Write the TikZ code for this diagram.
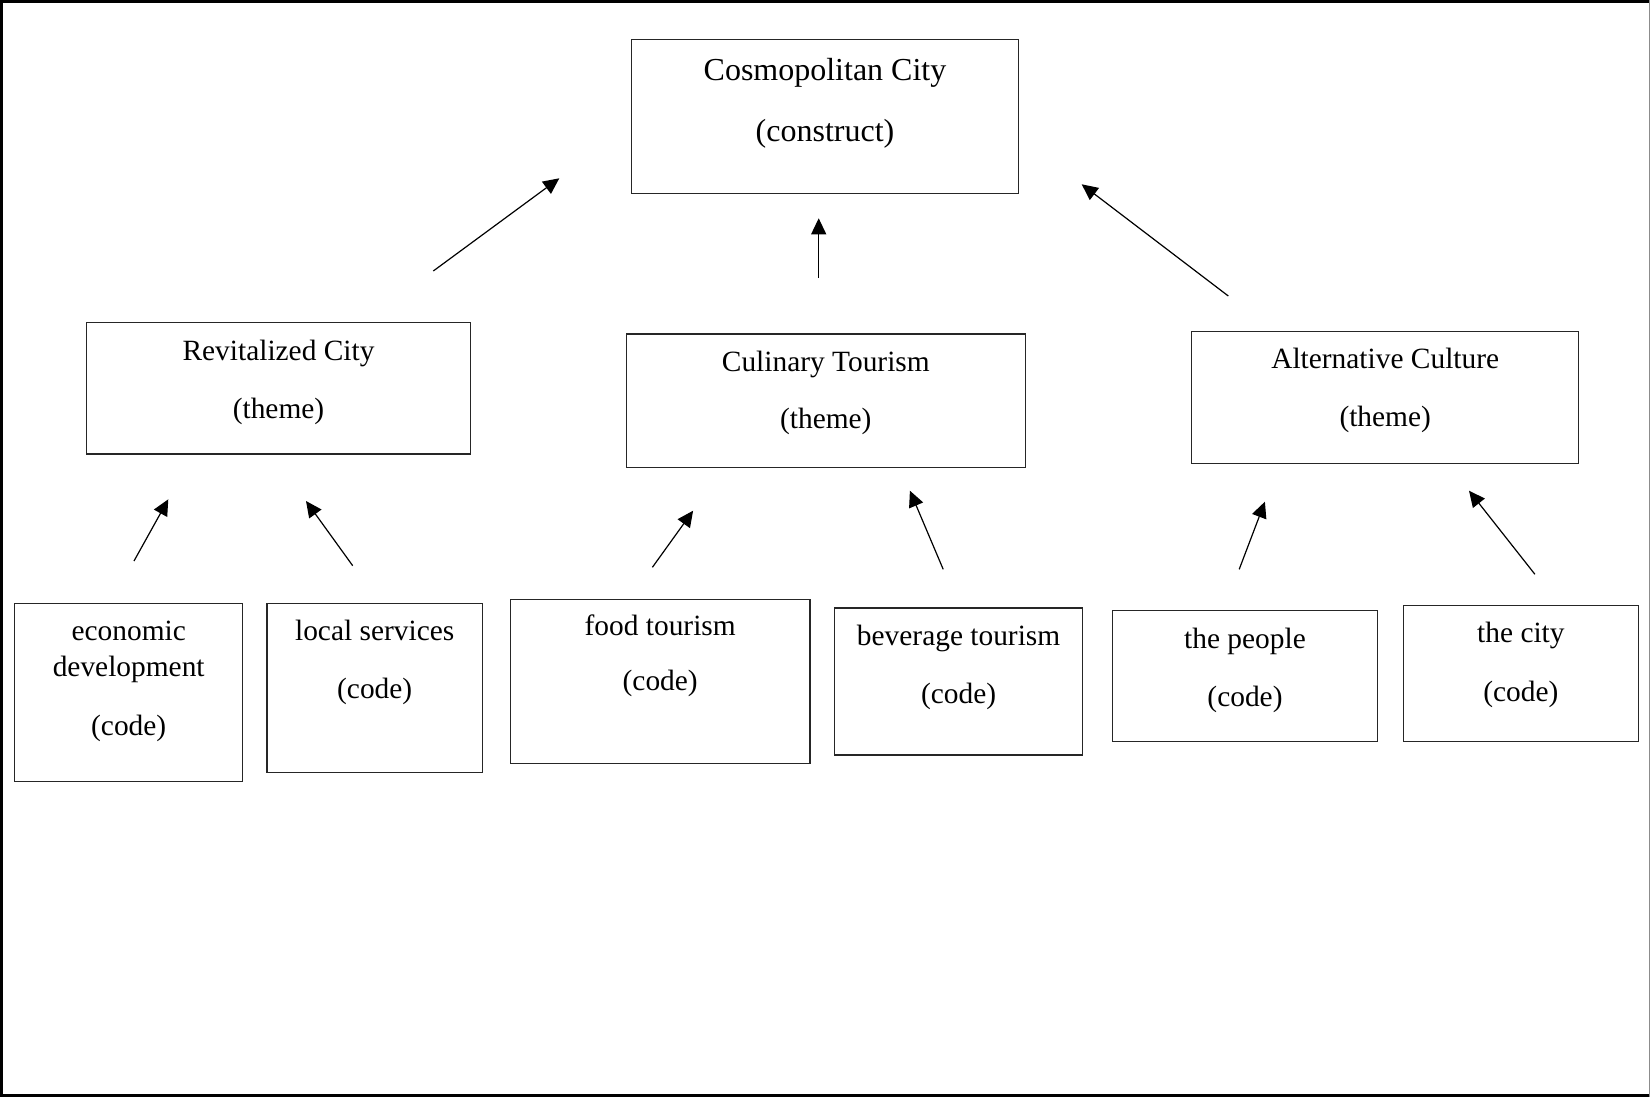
\documentclass[tikz,border=0pt]{standalone}
\usepackage{fontspec}
\setmainfont{Liberation Serif}
\usetikzlibrary{arrows.meta, positioning}

\tikzset{
    boxsize/.style 2 args={minimum width=#1*0.5pt, minimum height=#2*0.5pt}
}

\begin{document}
\begin{tikzpicture}[
    x=0.5pt, y=-0.5pt,
    box/.style={rectangle, draw=black!85, line width=0.6pt, inner sep=0pt},
    txt/.style={align=center, anchor=base, inner sep=0pt, font=\fontsize{14.7}{18.1}\selectfont},
    arrow/.style={-{Triangle[length=8pt, width=7.5pt]}, line width=0.6pt, black},
    frame/.style={line width=1.5pt, black}
]
\useasboundingbox (0,0) rectangle (1650,1097);

% Outer frame
\draw[frame] (1650,1.5) -- (1.5,1.5) -- (1.5,1095.5) -- (1650,1095.5);
\draw[black!45, line width=0.5pt] (1649.5,0) -- (1649.5,1097);

% Construct
\node[box, boxsize={387.4}{154}] (city) at (825,116.3) {};
\node[txt, font=\fontsize{16}{18.1}\selectfont] (city-t) at (825,141.7) {Cosmopolitan City\\[12.7pt](construct)};

% Themes
\node[box, boxsize={383.6}{131.3}] (revit) at (278.5,388.4) {};
\node[txt] (revit-t) at (278.5,418.3) {Revitalized City\\[11pt](theme)};

\node[box, boxsize={399.1}{133.3}] (culin) at (825.8,400.7) {};
\node[txt] (culin-t) at (825.8,428.3) {Culinary Tourism\\[10.2pt](theme)};

\node[box, boxsize={387.3}{131.6}] (alter) at (1385.2,397.5) {};
\node[txt] (alter-t) at (1385.2,426.7) {Alternative Culture\\[10.8pt](theme)};

% Codes
\node[box, boxsize={228}{178.4}] (econ) at (128.7,692.5) {};
\node[txt] (econ-t) at (128.7,735) {economic\\development\\[11pt](code)};

\node[box, boxsize={215.3}{169.4}] (local) at (374.7,688) {};
\node[txt] (local-t) at (374.7,698.3) {local services\\[10.7pt](code)};

\node[box, boxsize={299.6}{164}] (food) at (660.2,681.3) {};
\node[txt] (food-t) at (660.2,690) {food tourism\\[9.4pt](code)};

\node[box, boxsize={248.4}{147}] (bever) at (958.6,681.5) {};
\node[txt] (bever-t) at (958.6,703) {beverage tourism\\[10.9pt](code)};

\node[box, boxsize={264.8}{131.4}] (people) at (1245,676) {};
\node[txt] (people-t) at (1245,706.7) {the people\\[11.1pt](code)};

\node[box, boxsize={235}{136}] (place) at (1520.9,673.7) {};
\node[txt] (place-t) at (1520.9,701.7) {the city\\[11.4pt](code)};

% Arrow ends
\coordinate (revit-a) at (433.3,271);    \coordinate (city-a1) at (559.3,178.3);
\coordinate (culin-a) at (818.7,278);    \coordinate (city-a2) at (818.7,218.3);
\coordinate (alter-a) at (1228.3,296);   \coordinate (city-a3) at (1081.7,184.3);
\coordinate (econ-a) at (134,561);       \coordinate (revit-b1) at (168.3,499.3);
\coordinate (local-a) at (352.7,565.7);  \coordinate (revit-b2) at (306,501);
\coordinate (food-a) at (652.4,567.3);   \coordinate (culin-b1) at (693.1,510.7);
\coordinate (bever-a) at (943.2,569.3);  \coordinate (culin-b2) at (909.9,490.7);
\coordinate (people-a) at (1239.2,569.3); \coordinate (alter-b1) at (1264.9,501.7);
\coordinate (place-a) at (1534.9,574.3); \coordinate (alter-b2) at (1469,490.7);

% Arrows - themes to construct
\draw[arrow] (revit-a) -- (city-a1);
\draw[arrow] (culin-a) -- (city-a2);
\draw[arrow] (alter-a) -- (city-a3);

% Arrows - codes to themes
\draw[arrow] (econ-a) -- (revit-b1);
\draw[arrow] (local-a) -- (revit-b2);
\draw[arrow] (food-a) -- (culin-b1);
\draw[arrow] (bever-a) -- (culin-b2);
\draw[arrow] (people-a) -- (alter-b1);
\draw[arrow] (place-a) -- (alter-b2);

\end{tikzpicture}
\end{document}
